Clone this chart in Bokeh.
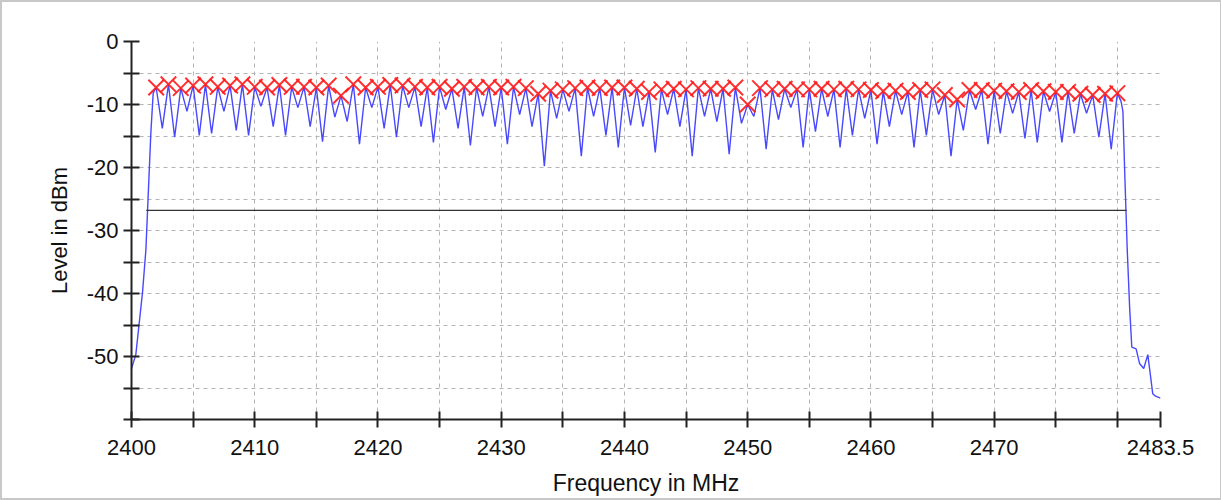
from bokeh.plotting import figure
from bokeh.models import FixedTicker, ColumnDataSource
from bokeh.embed import file_html
from bokeh.resources import INLINE

# ---- data ----
channel_freq = list(range(2402, 2481))  # MHz, one marker per channel
peak_level = [
    -7.3, -6.8, -7.4, -7.0, -6.8, -7.2, -7.0, -6.8, -7.2, -7.3,
    -6.9, -7.2, -7.2, -7.3, -7.0, -8.6, -6.8, -7.3, -7.2, -6.9,
    -7.0, -7.2, -7.3, -7.2, -7.5, -7.2, -7.3, -7.2, -7.3, -7.2,
    -7.4, -8.3, -7.8, -7.6, -7.4, -7.3, -7.4, -7.3, -7.3, -7.5,
    -8.0, -7.6, -7.5, -7.6, -7.4, -7.5, -7.5, -7.3, -10.0, -7.4,
    -7.6, -7.5, -7.6, -7.6, -7.5, -7.6, -7.5, -7.6, -7.7, -7.9,
    -7.8, -8.0, -7.7, -7.6, -8.5, -9.2, -7.7, -7.7, -7.8, -7.9,
    -8.0, -7.7, -7.9, -8.0, -8.0, -8.3, -8.5, -8.3, -8.2,
]
# level of the trace between channel n and channel n+1
dip_level = [
    -13.8, -15.2, -11.1, -14.9, -14.6, -11.1, -14.1, -14.9, -10.3, -13.5,
    -14.9, -10.5, -13.5, -15.9, -12.0, -12.7, -16.3, -10.5, -13.8, -15.2,
    -10.5, -13.5, -16.0, -10.8, -13.8, -16.5, -11.9, -13.5, -16.3, -11.6,
    -13.5, -19.8, -12.2, -11.1, -18.2, -11.9, -14.9, -16.8, -13.3, -13.5,
    -17.6, -11.6, -13.5, -18.2, -11.9, -12.7, -17.9, -13.0, -11.9, -17.1,
    -12.4, -10.5, -16.8, -14.3, -11.9, -16.8, -14.9, -12.2, -16.3, -13.5,
    -11.6, -16.8, -14.9, -11.6, -18.2, -14.1, -10.8, -16.3, -14.6, -11.4,
    -15.4, -16.0, -11.1, -16.0, -14.6, -11.4, -15.2, -17.1,
]
rise_freq = [2400.0, 2400.35, 2400.9, 2401.17, 2401.57, 2401.76]
rise_level = [-51.9, -49.7, -39.7, -33.0, -14.5, -8.2]
fall_freq = [2480.3, 2480.45, 2480.6, 2480.8, 2481.0, 2481.17, 2481.52,
             2481.8, 2482.14, 2482.47, 2482.87, 2483.1, 2483.5]
fall_level = [-9.5, -11.1, -21.0, -33.0, -42.4, -48.5, -48.8,
              -51.1, -51.9, -49.7, -55.9, -56.3, -56.6]
bw_freq = [2401.2, 2480.75]
bw_level = [-26.8, -26.8]

x_ticks = [2400, 2405, 2410, 2415, 2420, 2425, 2430, 2435, 2440, 2445,
           2450, 2455, 2460, 2465, 2470, 2475, 2480, 2483.5]
x_labels = ["2400", "", "2410", "", "2420", "", "2430", "", "2440", "",
            "2450", "", "2460", "", "2470", "", "", "2483.5"]
y_ticks = [-60, -55, -50, -45, -40, -35, -30, -25, -20, -15, -10, -5, 0]
y_labels = ["", "", "-50", "", "-40", "", "-30", "", "-20", "", "-10", "", "0"]

# ---- build trace from the read values ----
trace_freq = list(rise_freq)
trace_level = list(rise_level)
for i, f in enumerate(channel_freq):
    trace_freq.append(f)
    trace_level.append(peak_level[i])
    if i < len(dip_level):
        trace_freq.append(f + 0.5)
        trace_level.append(dip_level[i])
trace_freq += fall_freq
trace_level += fall_level

FONT = "Liberation Sans"

p = figure(width=1218, height=495, output_backend="svg", toolbar_location=None,
           x_range=(2400, 2483.5), y_range=(-60, 0),
           min_border_left=129, min_border_right=60, min_border_top=39,
           min_border_bottom=78)
p.frame_width = 1029
p.frame_height = 378
p.styles = {"border": "2px solid #c8c8c8", "box-sizing": "border-box"}
p.outline_line_color = None
p.background_fill_color = "white"
p.border_fill_color = "white"

p.xaxis.ticker = FixedTicker(ticks=x_ticks, minor_ticks=[])
p.yaxis.ticker = FixedTicker(ticks=y_ticks, minor_ticks=[])
p.xaxis.major_label_overrides = {t: l for t, l in zip(x_ticks, x_labels)}
p.yaxis.major_label_overrides = {t: l for t, l in zip(y_ticks, y_labels)}

for ax in (p.xaxis, p.yaxis):
    ax.axis_line_color = "#222222"
    ax.axis_line_width = 2
    ax.major_tick_line_color = "#222222"
    ax.major_tick_line_width = 2
    ax.major_tick_in = 8
    ax.major_tick_out = 8
    ax.minor_tick_line_color = None
    ax.major_label_text_font = FONT
    ax.major_label_text_font_size = "22px"
    ax.major_label_text_color = "#111111"
    ax.axis_label_text_font = FONT
    ax.axis_label_text_font_size = "22px"
    ax.axis_label_text_font_style = "normal"
    ax.axis_label_text_color = "#111111"

p.xaxis.axis_label = "Frequency in MHz"
p.yaxis.axis_label = "Level in dBm"
p.xaxis.axis_label_text_font_size = "23px"
p.xaxis.major_label_standoff = 12
p.xaxis.axis_label_standoff = 12
p.yaxis.major_label_standoff = 5
p.yaxis.axis_label_standoff = 12

for g in (p.xgrid, p.ygrid):
    g.grid_line_color = "#b4b4b4"
    g.grid_line_dash = "4 4"
    g.grid_line_width = 1

src = ColumnDataSource(dict(freq=trace_freq, level=trace_level))
p.line("freq", "level", source=src, line_color="#4848ff", line_width=1.4)
p.line(bw_freq, bw_level, line_color="#333333", line_width=1.2)
p.scatter(channel_freq, peak_level, marker="x", size=22,
          line_color="#ff1a1a", line_width=2, line_alpha=0.9)

open("out.html", "w").write(file_html(p, INLINE))
